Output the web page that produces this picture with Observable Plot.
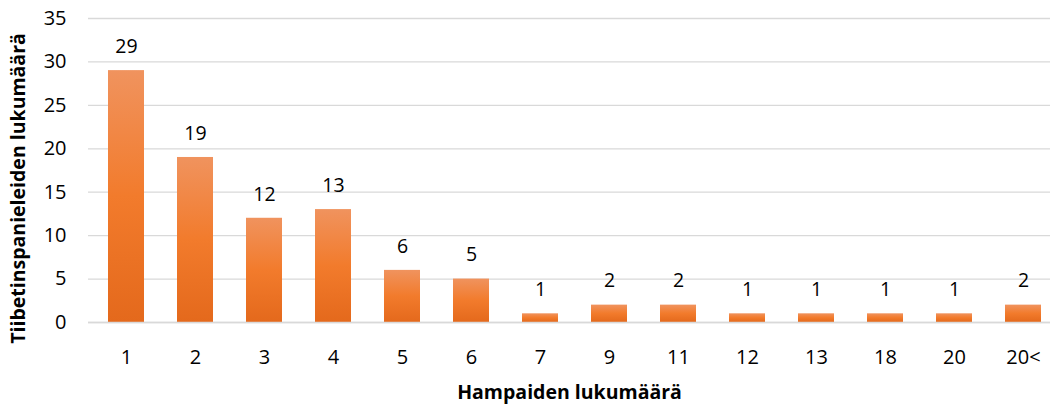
<!DOCTYPE html>
<html>
<head>
<meta charset="utf-8">
<script src="https://cdn.jsdelivr.net/npm/d3@7"></script>
<script src="https://cdn.jsdelivr.net/npm/@observablehq/plot@0.6"></script>
<style>
  html, body { margin: 0; padding: 0; background: #fff; overflow: hidden; }
  #chart { width: 1050px; height: 405px; }
</style>
</head>
<body>
<div id="chart"></div>
<script>
const categories = ["1", "2", "3", "4", "5", "6", "7", "9", "11", "12", "13", "18", "20", "20<"];
const values = [29, 19, 12, 13, 6, 5, 1, 2, 2, 1, 1, 1, 1, 2];
const yTicks = [0, 5, 10, 15, 20, 25, 30, 35];
const xTitle = "Hampaiden lukumäärä";
const yTitle = "Tiibetinspanieleiden lukumäärä";

const data = categories.map((c, i) => ({cat: c, val: values[i]}));
const font = "'Open Sans', 'Noto Sans', sans-serif";

const chart = Plot.plot({
  width: 1050,
  height: 405,
  marginTop: 18,
  marginLeft: 88,
  marginRight: 0,
  marginBottom: 83,
  style: {fontFamily: font, fontSize: "18px", color: "#000", background: "#fff", overflow: "visible"},
  x: {domain: categories, range: [88, 1060], paddingInner: 0.48, paddingOuter: 0.24, label: null},
  y: {domain: [0, 35], ticks: yTicks, label: null},
  marks: [
    () => {
      const ns = "http://www.w3.org/2000/svg";
      const defs = document.createElementNS(ns, "defs");
      defs.innerHTML = `<linearGradient id="barGrad" x1="0" y1="0" x2="0" y2="1">
        <stop offset="0" stop-color="#F0935E"/>
        <stop offset="0.5" stop-color="#F27B2C"/>
        <stop offset="1" stop-color="#E4691C"/>
      </linearGradient>`;
      return defs;
    },
    Plot.gridY(yTicks, {stroke: "#d9d9d9", strokeOpacity: 1, strokeWidth: 1.3}),
    Plot.barY(data, {x: "cat", y: "val", fill: "url(#barGrad)"}),
    Plot.ruleY([0], {stroke: "#d9d9d9", strokeWidth: 1.5}),
    Plot.text(data, {x: "cat", y: "val", text: d => String(d.val), dy: -24, fontSize: 19.5, fill: "#000"}),
    Plot.axisY(yTicks, {tickSize: 0, tickPadding: 22, fontSize: 20, fill: "#000", label: null}),
    Plot.axisX({tickSize: 0, tickPadding: 27, fontSize: 20, fill: "#000", label: null}),
    Plot.text([xTitle], {frameAnchor: "bottom", lineAnchor: "middle", dy: 70, fontWeight: "bold", fontSize: 19.5, fill: "#000"}),
    Plot.text([yTitle], {frameAnchor: "left", textAnchor: "middle", lineAnchor: "middle", dx: -70, dy: 18, rotate: -90, fontWeight: "bold", fontSize: 19.5, fill: "#000"})
  ]
});
document.getElementById("chart").appendChild(chart);
</script>
</body>
</html>
